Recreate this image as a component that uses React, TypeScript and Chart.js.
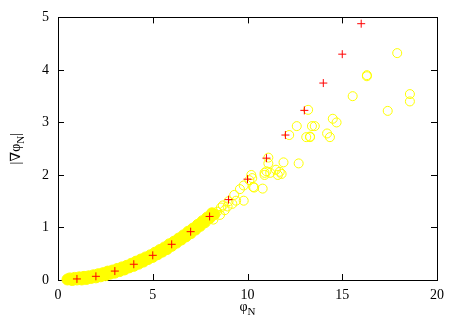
import React, { useEffect, useRef } from 'react';
import { Chart, registerables } from 'chart.js';
Chart.register(...registerables);

// Red "+" series
const crossX = [1, 2, 3, 4, 5, 6, 7, 8, 9, 10, 11, 12, 13, 14, 15, 16];
const crossY = [0.02, 0.07, 0.17, 0.3, 0.47, 0.68, 0.92, 1.21, 1.53, 1.92, 2.32, 2.76, 3.23, 3.75, 4.3, 4.88];

// Yellow circles: dense band (overlapping so much they read as a solid stroke)
const bandX = [0.5, 0.625, 0.75, 0.875, 1.0, 1.125, 1.25, 1.375, 1.5, 1.625, 1.75, 1.875, 2.0, 2.125, 2.25, 2.375, 2.5, 2.625, 2.75, 2.875, 3.0, 3.125, 3.25, 3.375, 3.5, 3.625, 3.75, 3.875, 4.0, 4.125, 4.25, 4.375, 4.5, 4.625, 4.75, 4.875, 5.0, 5.125, 5.25, 5.375, 5.5, 5.625, 5.75, 5.875, 6.0, 6.125, 6.25, 6.375, 6.5, 6.625, 6.75, 6.875, 7.0, 7.125, 7.25, 7.375, 7.5, 7.625, 7.75, 7.875, 8.0, 8.125, 8.25];
const bandY = [0.01, 0.03, 0.0, 0.04, 0.01, 0.05, 0.01, 0.06, 0.02, 0.07, 0.04, 0.09, 0.05, 0.11, 0.07, 0.13, 0.09, 0.16, 0.12, 0.18, 0.14, 0.21, 0.17, 0.24, 0.2, 0.27, 0.24, 0.31, 0.27, 0.35, 0.31, 0.39, 0.35, 0.43, 0.4, 0.47, 0.44, 0.52, 0.49, 0.57, 0.54, 0.62, 0.59, 0.68, 0.65, 0.73, 0.71, 0.79, 0.77, 0.85, 0.83, 0.92, 0.89, 0.98, 0.96, 1.05, 1.03, 1.12, 1.1, 1.19, 1.18, 1.27, 1.25];

// Yellow circles: scattered points
const scatX = [8.2, 8.4, 8.55, 8.6, 8.7, 8.8, 8.95, 9.0, 9.2, 9.3, 9.4, 9.8, 9.8, 9.6, 10.1, 10.2, 10.25, 10.3, 10.35, 10.8, 10.9, 10.9, 11.0, 11.1, 11.2, 11.1, 11.5, 11.6, 11.7, 11.8, 11.9, 12.2, 12.6, 12.7, 13.1, 13.2, 13.3, 13.3, 13.4, 13.55, 14.2, 14.35, 14.5, 14.7, 15.55, 16.3, 16.3, 17.4, 17.9, 18.57, 18.57];
const scatY = [1.15, 1.3, 1.24, 1.38, 1.42, 1.33, 1.4, 1.5, 1.45, 1.62, 1.51, 1.51, 1.8, 1.73, 1.9, 2.0, 1.94, 1.77, 1.76, 1.74, 2.0, 2.04, 2.07, 2.22, 2.04, 2.33, 2.1, 2.0, 2.06, 2.02, 2.24, 2.76, 2.93, 2.22, 2.72, 3.24, 2.73, 2.72, 2.93, 2.93, 2.79, 2.72, 3.07, 3.0, 3.5, 3.9, 3.88, 3.22, 4.32, 3.54, 3.4];

const xTicks = [0, 5, 10, 15, 20];
const yTicks = [0, 1, 2, 3, 4, 5];

const SERIF = '"Liberation Serif", "DejaVu Serif", serif';

const framePlugin = {
  id: 'frame',
  beforeDatasetsDraw(chart: any) {
    const { ctx, chartArea: a, scales } = chart;
    ctx.save();
    ctx.strokeStyle = '#000';
    ctx.lineWidth = 1;
    ctx.strokeRect(Math.round(a.left) + 0.5, Math.round(a.top) + 0.5, Math.round(a.right - a.left), Math.round(a.bottom - a.top));
    const tl = 6;
    ctx.beginPath();
    for (const v of xTicks) {
      const x = Math.round(scales.x.getPixelForValue(v)) + 0.5;
      ctx.moveTo(x, a.bottom); ctx.lineTo(x, a.bottom - tl);
      ctx.moveTo(x, a.top); ctx.lineTo(x, a.top + tl);
    }
    for (const v of yTicks) {
      const y = Math.round(scales.y.getPixelForValue(v)) + 0.5;
      ctx.moveTo(a.left, y); ctx.lineTo(a.left + tl, y);
      ctx.moveTo(a.right, y); ctx.lineTo(a.right - tl, y);
    }
    ctx.stroke();
    ctx.restore();
  },
  afterDraw(chart: any) {
    const { ctx, chartArea: a } = chart;
    ctx.save();
    ctx.fillStyle = '#000';
    ctx.textBaseline = 'alphabetic';
    const cx = (a.left + a.right) / 2;
    ctx.font = `14px ${SERIF}`;
    const w1 = ctx.measureText('φ').width;
    ctx.font = `11px ${SERIF}`;
    const w2 = ctx.measureText('N').width;
    const sx = cx - (w1 + w2) / 2;
    ctx.font = `14px ${SERIF}`;
    ctx.fillText('φ', sx, 311);
    ctx.font = `11px ${SERIF}`;
    ctx.fillText('N', sx + w1, 315);
    ctx.translate(20, (a.top + a.bottom) / 2);
    ctx.rotate(-Math.PI / 2);
    ctx.font = `14px ${SERIF}`;
    const p1 = '|∇φ';
    const q1 = ctx.measureText(p1).width;
    ctx.font = `11px ${SERIF}`;
    const q2 = ctx.measureText('N').width;
    ctx.font = `14px ${SERIF}`;
    const q3 = ctx.measureText('|').width;
    const sy = -(q1 + q2 + q3) / 2;
    ctx.fillText(p1, sy, 0);
    ctx.font = `11px ${SERIF}`;
    ctx.fillText('N', sy + q1, 4);
    ctx.font = `14px ${SERIF}`;
    ctx.fillText('|', sy + q1 + q2, 0);
    ctx.restore();
  },
};

export default function App() {
  const ref = useRef<HTMLCanvasElement>(null);
  useEffect(() => {
    document.body.style.margin = '0';
    const toPts = (xs: number[], ys: number[]) => xs.map((x, i) => ({ x, y: ys[i] }));
    const chart = new Chart(ref.current!, {
      type: 'scatter',
      data: {
        datasets: [
          {
            data: toPts(crossX, crossY),
            pointStyle: 'cross',
            pointRadius: 4,
            borderColor: '#ff0000',
            backgroundColor: '#ff0000',
            pointBorderWidth: 1,
            clip: false,
          } as any,
          {
            data: toPts(scatX, scatY),
            pointStyle: 'circle',
            pointRadius: 4.5,
            borderColor: '#ffff00',
            backgroundColor: 'rgba(0,0,0,0)',
            pointBorderWidth: 1,
            clip: false,
          } as any,
          {
            data: toPts(bandX, bandY),
            pointStyle: 'circle',
            pointRadius: 5.5,
            borderColor: '#ffff00',
            backgroundColor: '#ffff00',
            pointBorderWidth: 1,
            clip: false,
          } as any,
        ],
      },
      options: {
        animation: false,
        responsive: false,
        events: [],
        layout: { padding: { top: 17, right: 26, left: 0, bottom: 0 } },
        plugins: { legend: { display: false }, tooltip: { enabled: false } },
        scales: {
          x: {
            type: 'linear',
            min: 0,
            max: 20,
            afterBuildTicks: (s: any) => { s.ticks = xTicks.map((v) => ({ value: v })); },
            afterFit: (s: any) => { s.height = 44; },
            grid: { display: false, drawTicks: false },
            border: { display: false },
            ticks: { color: '#000', font: { family: SERIF, size: 14 }, padding: 7, maxRotation: 0 },
          },
          y: {
            type: 'linear',
            min: 0,
            max: 5,
            afterBuildTicks: (s: any) => { s.ticks = yTicks.map((v) => ({ value: v })); },
            afterFit: (s: any) => { s.width = 58; },
            grid: { display: false, drawTicks: false },
            border: { display: false },
            ticks: { color: '#000', font: { family: SERIF, size: 14 }, padding: 9 },
          },
        },
      },
      plugins: [framePlugin],
    });
    return () => chart.destroy();
  }, []);
  return (
    <div style={{ width: 463, height: 324 }}>
      <canvas ref={ref} width={463} height={324} style={{ display: 'block' }} />
    </div>
  );
}
